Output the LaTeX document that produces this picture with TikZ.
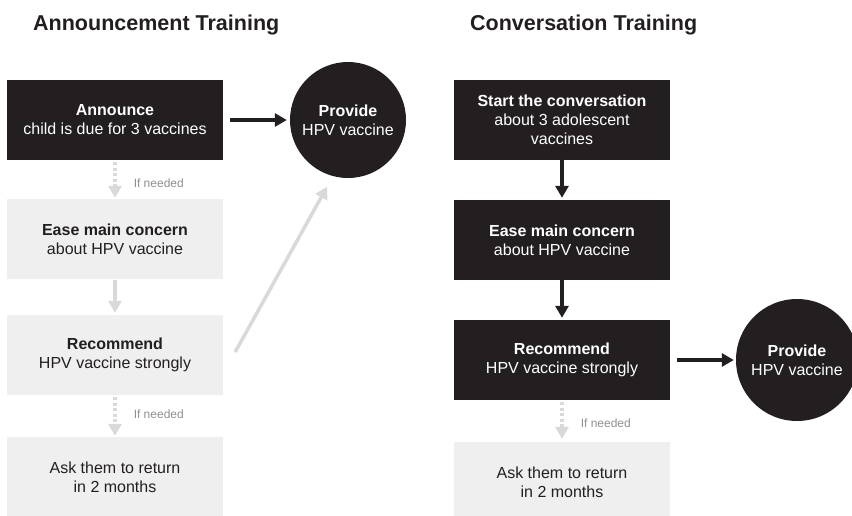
\documentclass[tikz,border=0pt]{standalone}
\usepackage{fontspec}
\setmainfont{Liberation Sans}
\usetikzlibrary{arrows.meta}
\definecolor{ink}{HTML}{231F20}
\definecolor{paper}{HTML}{EFEFEF}
\definecolor{mist}{HTML}{D9D9D9}
\definecolor{hint}{HTML}{8F8F8F}
\tikzset{
	every node/.style={align=center,inner sep=0pt},
	darkbox/.style={fill=ink,text=white,minimum width=216pt,minimum height=80pt,font=\fontsize{16}{19}\selectfont},
	lightbox/.style={darkbox,fill=paper,text=ink},
	disc/.style={circle,fill=ink,text=white,font=\fontsize{16}{19}\selectfont},
	title/.style={anchor=base west,text=ink,font=\fontsize{21.5}{25}\selectfont\bfseries},
	ifneeded/.style={text=hint,font=\fontsize{12}{14}\selectfont,anchor=west,xshift=17pt},
	blackarrow/.style={-{Triangle[length=12pt,width=13pt]},line width=3.5pt,draw=ink},
	grayarrow/.style={blackarrow,draw=mist},
	dotarrow/.style={grayarrow,dash pattern=on 3pt off 2.5pt},
}

\begin{document}
\begin{tikzpicture}[x=1pt,y=-1pt]
	\useasboundingbox (0,0) rectangle (852,515);

	%titles.....................
	\node [title] (titleA) at (33,30) {Announcement Training};
	\node [title] (titleB) at (470,30) {Conversation Training};

	%announcement column.....................
	\node [darkbox] (announce) at (115,120) {\textbf{Announce}\\child is due for 3 vaccines};
	\node [lightbox] (easeA) at (115,239) {\textbf{Ease main concern}\\about HPV vaccine};
	\node [lightbox] (recommendA) at (115,355) {\textbf{Recommend}\\HPV vaccine strongly};
	\node [lightbox] (askA) at (115,477) {Ask them to return\\in 2 months};
	\node [disc,minimum size=116pt] (provideA) at (348,120) {\textbf{Provide}\\HPV vaccine};

	\draw [blackarrow,shorten <=7pt,shorten >=3pt] (announce) -- (provideA);
	\draw [dotarrow,shorten <=2pt,shorten >=1pt] (announce) -- (easeA) node [ifneeded,pos=0.6] {If needed};
	\draw [grayarrow,shorten <=1pt,shorten >=2pt] (easeA) -- (recommendA);
	\draw [dotarrow,shorten <=2pt,shorten >=1pt] (recommendA) -- (askA) node [ifneeded,pos=0.45] {If needed};
	\draw [grayarrow,shorten >=12pt] ([xshift=12pt,yshift=3pt]recommendA.east) -- (provideA.255);

	%conversation column.....................
	\node [darkbox] (start) at (562,120) {\textbf{Start the conversation}\\about 3 adolescent\\vaccines};
	\node [darkbox] (easeB) at (562,240) {\textbf{Ease main concern}\\about HPV vaccine};
	\node [darkbox] (recommendB) at (562,360) {\textbf{Recommend}\\HPV vaccine strongly};
	\node [lightbox] (askB) at (562,482) {Ask them to return\\in 2 months};
	\node [disc,minimum size=122pt] (provideB) at (797,360) {\textbf{Provide}\\HPV vaccine};

	\draw [blackarrow,shorten >=2pt] (start) -- (easeB);
	\draw [blackarrow,shorten >=2pt] (easeB) -- (recommendB);
	\draw [blackarrow,shorten <=7pt,shorten >=2pt] (recommendB) -- (provideB);
	\draw [dotarrow,shorten <=2pt,shorten >=3pt] (recommendB) -- (askB) node [ifneeded,pos=0.55] {If needed};
\end{tikzpicture}
\end{document}
